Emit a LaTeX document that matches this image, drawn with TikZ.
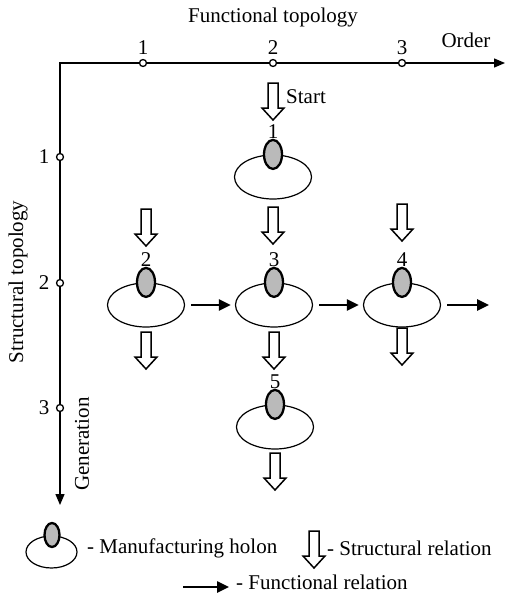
\documentclass[tikz,border=0pt]{standalone}
\usepackage{fontspec}
\setmainfont{Liberation Serif}
\usetikzlibrary{shapes.geometric,arrows.meta}

% one manufacturing holon: body ellipse, grey core on its rim, number above
\newcommand\holon[4]{%
  \node[body] (#1) at (#2,#3) {};
  \node[core] (#1c) at (#1.north) {};
  \node (#1l) at (#2,#3-45) {#4};
}

\begin{document}
\begin{tikzpicture}[x=1pt,y=-1pt,
  every node/.style={font=\fontsize{21}{25}\selectfont, inner sep=0pt},
  axis/.style={line width=1.4pt, {Triangle[length=11pt,width=9pt]}-{Triangle[length=11pt,width=9pt]}},
  tickmark/.style={circle, draw, fill=white, line width=1.3pt, minimum size=7pt},
  body/.style={ellipse, draw, line width=1.2pt, minimum width=77pt, minimum height=44pt},
  core/.style={ellipse, draw, line width=2.3pt, fill=black!27, minimum width=18pt, minimum height=29pt},
  flow/.style={line width=2.5pt, -{Triangle[length=12pt,width=11pt]}},
  hollow/.style={draw, line width=1.5pt, fill=white, line join=miter},
  hollowdown/.pic={\path[hollow] (-5,0) -- (-5,25) -- (-11,25) -- (0,37)
                      -- (11,25) -- (5,25) -- (5,0) -- cycle;}
]
\useasboundingbox (0,0) rectangle (505,594);

% axes
\coordinate (O) at (60,63);
\coordinate (xend) at (505,63);
\coordinate (yend) at (60,505);
\draw[axis] (yend) -- (O) -- (xend);

% functional topology (horizontal)
\node (ftitle) at (273,17) {Functional topology};
\node (order) at (466,40) {Order};
\foreach \n/\x in {1/143, 2/273, 3/402} {
  \node[tickmark] (fx\n) at (\x,63) {};
  \node (fxl\n) at (\x,48) {\n};
}

% structural topology (vertical)
\node[rotate=90] (stitle) at (18,282) {Structural topology};
\node[rotate=90] (gen) at (82,444) {Generation};
\foreach \n/\y in {1/157, 2/283, 3/408} {
  \node[tickmark] (sy\n) at (60,\y) {};
  \node (syl\n) at (44,\y) {\n};
}

% holons
\holon{h1}{273}{177}{1}
\holon{h2}{146}{305}{2}
\holon{h3}{274}{305}{3}
\holon{h4}{402}{305}{4}
\holon{h5}{275}{427}{5}

% structural relations
\pic at (273,83) {hollowdown};
\node[anchor=west] (start) at (286,97) {Start};
\pic at (273,207) {hollowdown};
\pic at (146,209) {hollowdown};
\pic at (402,204) {hollowdown};
\pic at (146,332) {hollowdown};
\pic at (274,332) {hollowdown};
\pic at (402,328) {hollowdown};
\pic at (275,453) {hollowdown};

% functional relations
\coordinate (out) at (489,305);
\draw[flow, shorten <=6pt, shorten >=4pt] (h2) -- (h3);
\draw[flow, shorten <=6pt, shorten >=4pt] (h3) -- (h4);
\draw[flow, shorten <=6pt] (h4) -- (out);

% legend
\node[body, minimum width=51pt, minimum height=32pt] (lh) at (51.5,552) {};
\node[core, minimum width=15pt, minimum height=24pt] (lhc) at (52,535) {};
\node[anchor=west] (lht) at (87,548) {- Manufacturing holon};
\pic at (314,531) {hollowdown};
\node[anchor=west] (lst) at (327,548) {- Structural relation};
\coordinate (lfa) at (183,587);
\coordinate (lfb) at (229,587);
\draw[flow] (lfa) -- (lfb);
\node[anchor=west] (lft) at (236,582) {- Functional relation};
\end{tikzpicture}
\end{document}
